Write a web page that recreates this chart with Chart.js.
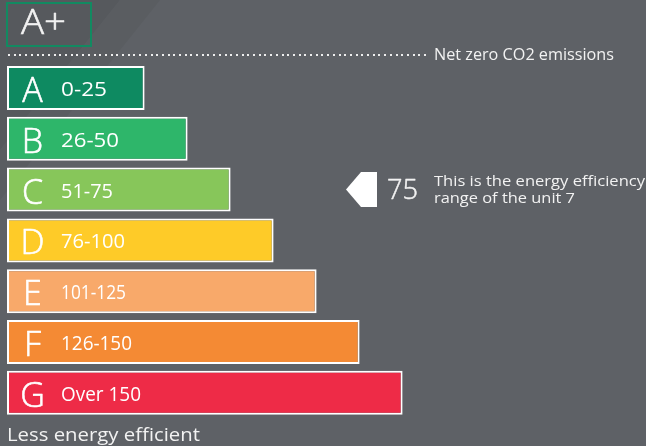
<!DOCTYPE html>
<html>
<head>
<meta charset="utf-8">
<script src="https://cdn.jsdelivr.net/npm/chart.js@4.4.1/dist/chart.umd.min.js"></script>
<style>
  html, body { margin: 0; padding: 0; background: #5e6166; }
  #wrap { width: 646px; height: 446px; }
</style>
</head>
<body>
<div id="wrap"><canvas id="c" width="646" height="446"></canvas></div>
<script>
// ---- data ----
const categories = ['A', 'B', 'C', 'D', 'E', 'F', 'G'];
const rangeLabels = ['0-25', '26-50', '51-75', '76-100', '101-125', '126-150', 'Over 150'];
const barLengths = [80, 105, 130, 155, 180, 205, 230];
const barColors = ['#0e8a61', '#2eb66a', '#87c65a', '#fecb28', '#f8a96a', '#f48a34', '#ee2b47'];
const topBandLabel = 'A+';
const topBandNote = 'Net zero CO2 emissions';
const ratingValue = 75;
const ratingCategory = 'C';
const ratingNote = ['This is the energy efficiency', 'range of the unit 7'];
const footerLabel = 'Less energy efficient';

// ---- layout / style ----
const FONT = "'Open Sans', 'Noto Sans', sans-serif";
const TEXT = '#f2f2f2';
const rangeLabelWidths = [46, 58, 52, 64, 65, 71, 80];

function fitText(ctx, text, x, y, font, targetW, thicken) {
  ctx.font = font;
  const w = ctx.measureText(text).width;
  const s = targetW ? targetW / w : 1;
  ctx.save();
  ctx.translate(x, y);
  ctx.scale(s, 1);
  ctx.textAlign = 'left';
  ctx.fillText(text, 0, 0);
  if (thicken) {
    ctx.strokeStyle = ctx.fillStyle;
    ctx.lineWidth = thicken;
    ctx.lineJoin = 'round';
    ctx.strokeText(text, 0, 0);
  }
  ctx.restore();
}

const decor = {
  id: 'decor',
  beforeDraw(chart) {
    const ctx = chart.ctx;
    const W = chart.width, H = chart.height;
    ctx.save();
    ctx.fillStyle = '#5e6166';
    ctx.fillRect(0, 0, W, H);
    ctx.fillStyle = '#56595d';
    ctx.beginPath();
    ctx.moveTo(0, 0); ctx.lineTo(120, 0); ctx.lineTo(0, 150); ctx.closePath();
    ctx.fill();
    ctx.fillStyle = '#5a5d61';
    ctx.beginPath();
    ctx.moveTo(120, 0); ctx.lineTo(160, 0); ctx.lineTo(0, 200); ctx.lineTo(0, 150); ctx.closePath();
    ctx.fill();
    ctx.restore();
  },
  afterDatasetsDraw(chart) {
    const ctx = chart.ctx;
    const y = chart.scales.y;
    ctx.save();
    ctx.textBaseline = 'alphabetic';
    // A+ box
    ctx.strokeStyle = '#128a61';
    ctx.lineWidth = 2;
    ctx.strokeRect(7, 3, 84, 43);
    ctx.fillStyle = TEXT;
    fitText(ctx, topBandLabel, 21, 34, '300 34px ' + FONT, 45, 0.6);
    // dotted line
    ctx.fillStyle = '#eeeeee';
    for (let x = 8; x <= 427; x += 5.7) ctx.fillRect(Math.round(x), 54, 2, 2);
    ctx.fillStyle = TEXT;
    fitText(ctx, topBandNote, 434, 60, '400 15.4px ' + FONT, 180);
    // bar labels
    categories.forEach((c, i) => {
      const cy = y.getPixelForValue(i);
      ctx.fillStyle = '#ffffff';
      ctx.font = '300 34px ' + FONT;
      const lw = ctx.measureText(c).width;
      fitText(ctx, c, 32.5 - lw / 2, cy + 14, '300 34px ' + FONT, null, 0.6);
      fitText(ctx, rangeLabels[i], 61, cy + 8, '400 19.5px ' + FONT, rangeLabelWidths[i]);
    });
    // rating marker
    const ry = y.getPixelForValue(categories.indexOf(ratingCategory));
    ctx.fillStyle = '#ffffff';
    ctx.beginPath();
    ctx.moveTo(346, ry);
    ctx.lineTo(361, ry - 17.5);
    ctx.lineTo(377, ry - 17.5);
    ctx.lineTo(377, ry + 17.5);
    ctx.lineTo(361, ry + 17.5);
    ctx.closePath();
    ctx.fill();
    ctx.fillStyle = TEXT;
    fitText(ctx, String(ratingValue), 387, ry + 9, '300 28px ' + FONT, 31, 0.5);
    fitText(ctx, ratingNote[0], 434, ry - 4, '400 14.8px ' + FONT, 211);
    fitText(ctx, ratingNote[1], 434, ry + 13, '400 14.8px ' + FONT, 141);
    // footer
    fitText(ctx, footerLabel, 7, 441, '400 18px ' + FONT, 193);
    ctx.restore();
  }
};

new Chart(document.getElementById('c'), {
  type: 'bar',
  data: {
    labels: categories,
    datasets: [{
      data: barLengths,
      backgroundColor: barColors,
      borderColor: '#ffffff',
      borderWidth: 2,
      borderSkipped: false,
      categoryPercentage: 1,
      barPercentage: 0.866
    }]
  },
  options: {
    indexAxis: 'y',
    responsive: false,
    animation: false,
    devicePixelRatio: 1,
    layout: { padding: { left: 7, top: 62.6, right: 0, bottom: 27.8 } },
    scales: {
      x: { display: false, min: 0, max: 371.5 },
      y: { display: false }
    },
    plugins: { legend: { display: false }, tooltip: { enabled: false } }
  },
  plugins: [decor]
});
</script>
</body>
</html>
